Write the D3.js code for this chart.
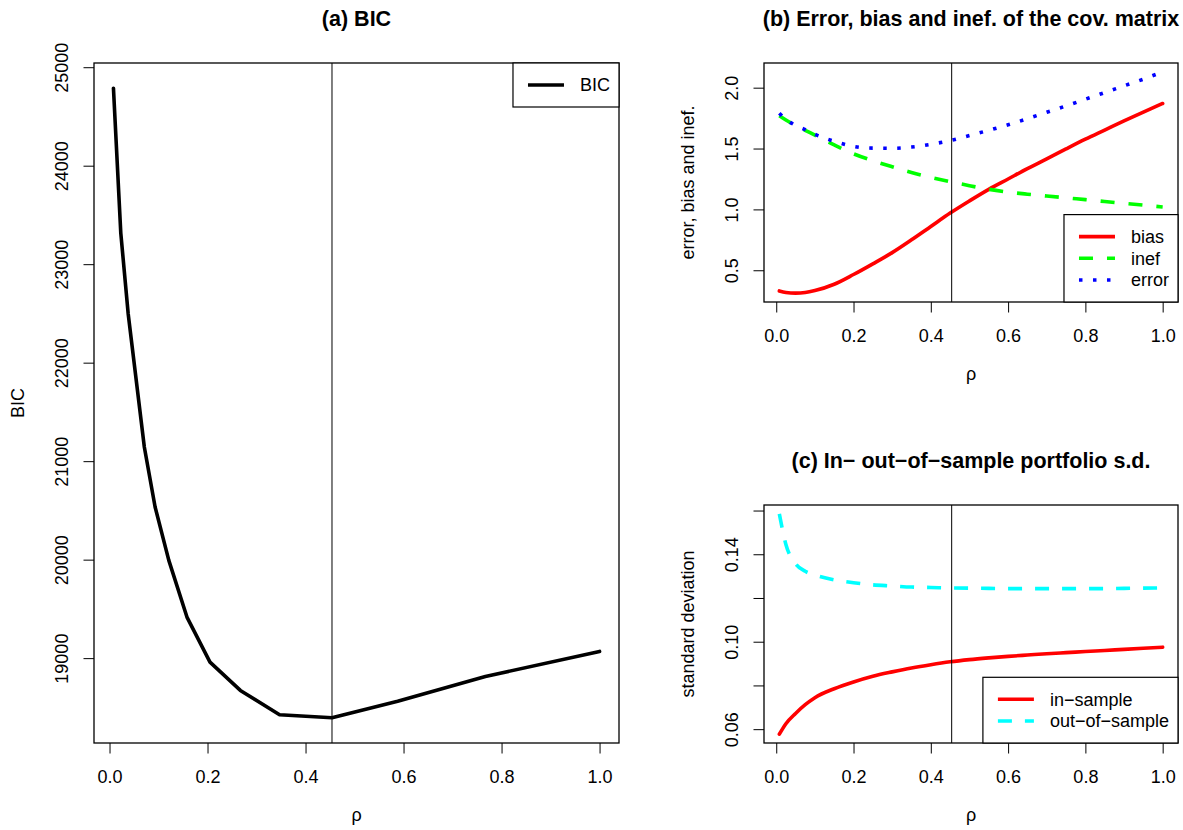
<!DOCTYPE html>
<html>
<head>
<meta charset="utf-8">
<script src="https://cdnjs.cloudflare.com/ajax/libs/d3/7.8.5/d3.min.js"></script>
<style>
body { margin: 0; background: #fff; }
svg { display: block; font-family: "Liberation Sans", Arial, Helvetica, sans-serif; }
</style>
</head>
<body>
<div id="chart"></div>
<script>

// (a) BIC over the rho grid
var rhoBic = [0.008, 0.023, 0.038, 0.071, 0.093, 0.121, 0.158, 0.205, 0.267, 0.347, 0.454, 0.588, 0.767, 1.0];
var bic = [24787, 23316, 22500, 21144, 20535, 19993, 19417, 18959, 18672, 18425, 18394, 18563, 18814, 19068];

// (b) and (c) share this grid
var rho = [0.008, 0.025, 0.05, 0.075, 0.1, 0.15, 0.2, 0.25, 0.3, 0.35, 0.4, 0.45, 0.5, 0.55, 0.6, 0.65, 0.7, 0.75, 0.8, 0.85, 0.9, 0.95, 1.0];
var bias = [0.33, 0.318, 0.312, 0.317, 0.333, 0.385, 0.465, 0.553, 0.645, 0.75, 0.86, 0.97, 1.07, 1.165, 1.25, 1.335, 1.415, 1.497, 1.577, 1.652, 1.727, 1.8, 1.87];
var inef = [1.77, 1.735, 1.69, 1.65, 1.61, 1.53, 1.457, 1.4, 1.35, 1.303, 1.263, 1.228, 1.195, 1.165, 1.142, 1.125, 1.11, 1.095, 1.08, 1.065, 1.05, 1.035, 1.02];
var error = [1.79, 1.74, 1.69, 1.655, 1.617, 1.56, 1.518, 1.503, 1.502, 1.512, 1.535, 1.565, 1.607, 1.65, 1.695, 1.745, 1.798, 1.85, 1.905, 1.96, 2.015, 2.07, 2.13];
var inSample = [0.0577, 0.0625, 0.0672, 0.0712, 0.0744, 0.0785, 0.0816, 0.0842, 0.0862, 0.088, 0.0895, 0.0908, 0.0918, 0.0926, 0.0933, 0.0939, 0.0945, 0.095, 0.0955, 0.096, 0.0965, 0.097, 0.0975];
var outSample = [0.1585, 0.1445, 0.1357, 0.1322, 0.1305, 0.1283, 0.127, 0.126, 0.1255, 0.125, 0.1248, 0.1246, 0.1245, 0.1244, 0.1243, 0.1243, 0.1243, 0.1243, 0.1243, 0.1243, 0.1244, 0.1245, 0.1246];

var rhoOpt = 0.454;

var xTicks = [0, 0.2, 0.4, 0.6, 0.8, 1.0];
var xTickLabels = ["0.0", "0.2", "0.4", "0.6", "0.8", "1.0"];
var bicTicks = [19000, 20000, 21000, 22000, 23000, 24000, 25000];
var bicTickLabels = ["19000", "20000", "21000", "22000", "23000", "24000", "25000"];
var bTicks = [0.5, 1.0, 1.5, 2.0];
var bTickLabels = ["0.5", "1.0", "1.5", "2.0"];
var cTicks = [0.06, 0.08, 0.10, 0.12, 0.14, 0.16];
var cTickLabels = ["0.06", "", "0.10", "", "0.14", ""];

var width = 1183, height = 830;

var svg = d3.select('#chart').append('svg')
    .attr('width', width)
    .attr('height', height);

svg.append('rect').attr('width', width).attr('height', height).attr('fill', '#fff');

// R style axis limits: data range plus 4% on each side
function rExtent(arrays) {
    var all = d3.merge(arrays);
    var lo = d3.min(all), hi = d3.max(all), pad = (hi - lo) * 0.04;
    return [lo - pad, hi + pad];
}

function panel(box, opts) {
    var g = svg.append('g');
    var x = d3.scaleLinear().domain(rExtent([opts.xs])).range([box.left, box.right]);
    var y = d3.scaleLinear().domain(rExtent(opts.series.map(function (s) { return s.values; })))
        .range([box.bottom, box.top]);

    // title
    g.append('text')
        .attr('x', (box.left + box.right) / 2)
        .attr('y', box.top - 37)
        .attr('text-anchor', 'middle')
        .style('font-size', '21.5px')
        .style('font-weight', 'bold')
        .text(opts.title);

    // x axis
    var xa = g.append('g')
        .attr('transform', 'translate(0,' + box.bottom + ')')
        .call(d3.axisBottom(x).tickValues(xTicks).tickSize(10.5)
            .tickFormat(function (d, i) { return xTickLabels[i]; }));
    xa.select('.domain').remove();
    xa.selectAll('text').attr('y', 40).attr('dy', 0).style('font-size', '18px').attr('fill', '#000');
    xa.selectAll('line').attr('stroke', '#000');

    // y axis, labels rotated like R
    var ya = g.append('g')
        .attr('transform', 'translate(' + box.left + ',0)')
        .call(d3.axisLeft(y).tickValues(opts.yTicks).tickSize(10.5)
            .tickFormat(function (d, i) { return opts.yLabels[i]; }));
    ya.select('.domain').remove();
    ya.selectAll('line').attr('stroke', '#000');
    ya.selectAll('text')
        .attr('x', 0).attr('dy', 0)
        .attr('transform', 'translate(-26,0) rotate(-90)')
        .style('text-anchor', 'middle')
        .style('font-size', '18px')
        .attr('fill', '#000');

    // axis titles
    g.append('text')
        .attr('x', (box.left + box.right) / 2)
        .attr('y', box.bottom + 78)
        .attr('text-anchor', 'middle')
        .style('font-size', '18px')
        .text('ρ');
    g.append('text')
        .attr('transform', 'translate(' + (box.left - 70) + ',' + (box.top + box.bottom) / 2 + ') rotate(-90)')
        .attr('text-anchor', 'middle')
        .style('font-size', '18px')
        .text(opts.ylab);

    // series
    opts.series.forEach(function (s) {
        var line = d3.line()
            .x(function (d, i) { return x(opts.xs[i]); })
            .y(function (d) { return y(d); })
            .curve(opts.curve);
        g.append('path')
            .attr('d', line(s.values))
            .attr('fill', 'none')
            .attr('stroke', s.color)
            .attr('stroke-width', 3.6)
            .attr('stroke-linejoin', 'round')
            .attr('stroke-linecap', s.dash ? 'butt' : 'round')
            .attr('stroke-dasharray', s.dash);
    });

    // chosen rho
    g.append('line')
        .attr('x1', x(rhoOpt)).attr('x2', x(rhoOpt))
        .attr('y1', box.top).attr('y2', box.bottom)
        .attr('stroke', '#000')
        .attr('stroke-width', 1);

    // frame
    g.append('rect')
        .attr('x', box.left).attr('y', box.top)
        .attr('width', box.right - box.left).attr('height', box.bottom - box.top)
        .attr('fill', 'none')
        .attr('stroke', '#000')
        .attr('stroke-width', 1.3);

    // legend
    var lg = g.append('g');
    var rowH = 21.7, n = opts.series.length;
    var bh = 22 + (n - 1) * rowH + 22;
    var frame = lg.append('rect').attr('fill', '#fff').attr('stroke', '#000').attr('stroke-width', 1.2);
    var maxW = 0;
    var items = lg.selectAll('g.item')
        .data(opts.series)
        .enter().append('g')
        .attr('class', 'item');
    items.append('text')
        .attr('x', 67)
        .attr('y', function (d, i) { return 22 + i * rowH + 6.3; })
        .style('font-size', '18px')
        .text(function (d) { return d.label; })
        .each(function () { maxW = Math.max(maxW, this.getComputedTextLength()); });
    items.append('line')
        .attr('x1', 15).attr('x2', 51)
        .attr('y1', function (d, i) { return 22 + i * rowH; })
        .attr('y2', function (d, i) { return 22 + i * rowH; })
        .attr('stroke', function (d) { return d.color; })
        .attr('stroke-width', 3.6)
        .attr('stroke-dasharray', function (d) { return d.dash; });
    var bw = 67 + maxW + 9;
    frame.attr('width', bw).attr('height', bh);
    var ly = opts.legendPos === 'top' ? box.top : box.bottom - bh;
    lg.attr('transform', 'translate(' + (box.right - bw) + ',' + ly + ')');
}

panel({ left: 94, right: 619, top: 63, bottom: 743 }, {
    title: '(a) BIC',
    ylab: 'BIC',
    xs: rhoBic,
    yTicks: bicTicks,
    yLabels: bicTickLabels,
    curve: d3.curveLinear,
    legendPos: 'top',
    series: [{ label: 'BIC', values: bic, color: '#000', dash: null }]
});

panel({ left: 764, right: 1178, top: 63, bottom: 302 }, {
    title: '(b) Error, bias and inef. of the cov. matrix',
    ylab: 'error, bias and inef.',
    xs: rho,
    yTicks: bTicks,
    yLabels: bTickLabels,
    curve: d3.curveMonotoneX,
    legendPos: 'bottom',
    series: [
        { label: 'bias', values: bias, color: '#ff0000', dash: null },
        { label: 'inef', values: inef, color: '#00ff00', dash: '14,14' },
        { label: 'error', values: error, color: '#0000ff', dash: '3.5,10.5' }
    ]
});

panel({ left: 764, right: 1178, top: 505, bottom: 743 }, {
    title: '(c) In\u2212 out\u2212of\u2212sample portfolio s.d.',
    ylab: 'standard deviation',
    xs: rho,
    yTicks: cTicks,
    yLabels: cTickLabels,
    curve: d3.curveMonotoneX,
    legendPos: 'bottom',
    series: [
        { label: 'in\u2212sample', values: inSample, color: '#ff0000', dash: null },
        { label: 'out\u2212of\u2212sample', values: outSample, color: '#00ffff', dash: '14,13' }
    ]
});

</script>
</body>
</html>
